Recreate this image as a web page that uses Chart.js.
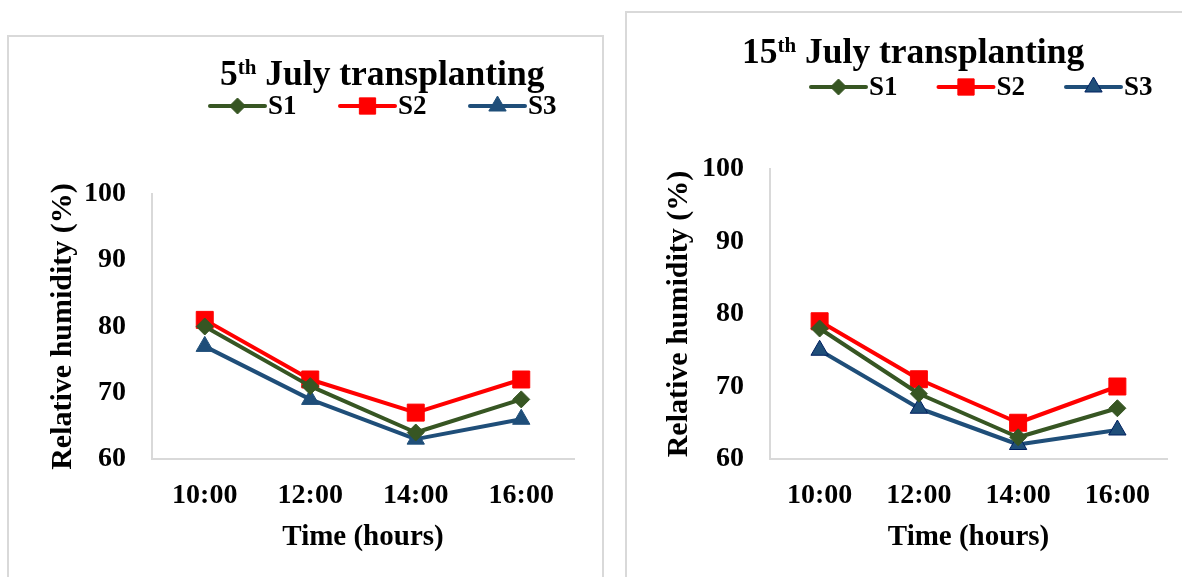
<!DOCTYPE html>
<html>
<head>
<meta charset="utf-8">
<script src="https://cdn.jsdelivr.net/npm/chart.js@4/dist/chart.umd.min.js"></script>
<style>
  html, body { margin: 0; padding: 0; background: #fff; width: 1182px; height: 577px; overflow: hidden; }
  .panel { position: absolute; border: 2px solid #d9d9d9; background: #fff; }
  .panel canvas { display: block; }
</style>
</head>
<body>
<div class="panel" style="left:7px; top:35px;">
  <canvas id="rhJuly5" width="593" height="540" style="width:593px;height:540px"></canvas>
</div>
<div class="panel" style="left:625px; top:11px;">
  <canvas id="rhJuly15" width="555" height="564" style="width:555px;height:564px"></canvas>
</div>
<script>
// Sampling times and relative humidity axis ticks
const timeLabels = ['10:00', '12:00', '14:00', '16:00'];
const humidityTicks = [60, 70, 80, 90, 100];
const seriesNames = ['S1', 'S2', 'S3'];

// Relative humidity (%) — 5th July transplanting
const july5S1 = [80, 71, 64, 69];
const july5S2 = [81, 72, 67, 72];
const july5S3 = [77, 69, 63, 66];

// Relative humidity (%) — 15th July transplanting
const july15S1 = [78, 69, 63, 67];
const july15S2 = [79, 71, 65, 70];
const july15S3 = [75, 67, 62, 64];

// Heading text: day number, ordinal suffix (superscript), remainder
const july5Heading = ['5', 'th', ' July transplanting'];
const july15Heading = ['15', 'th', ' July transplanting'];

const xAxisTitle = 'Time (hours)';
const yAxisTitle = 'Relative humidity (%)';

const SERIF = "'Liberation Serif', 'Times New Roman', Times, serif";

// Line and marker look for S1 / S2 / S3
const seriesLook = [
  { color: '#375623', edge: '#375623', style: 'rectRot', radius: 8.5, legendRadius: 8 },
  { color: '#ff0000', edge: '#ff0000', style: 'rect', radius: 12, legendRadius: 11.5 },
  { color: '#1f4e79', edge: '#1f4e79', style: 'triangle', radius: 10, legendRadius: 10 }
];

function markerPath(ctx, style, r, x, y) {
  ctx.beginPath();
  if (style === 'rect') {
    const s = Math.SQRT1_2 * r;
    ctx.rect(x - s, y - s, 2 * s, 2 * s);
  } else if (style === 'rectRot') {
    ctx.moveTo(x - r, y); ctx.lineTo(x, y - r); ctx.lineTo(x + r, y); ctx.lineTo(x, y + r);
    ctx.closePath();
  } else {
    const a = 2 * Math.PI / 3;
    ctx.moveTo(x, y - r);
    ctx.lineTo(x + Math.sin(a) * r, y - Math.cos(a) * r);
    ctx.lineTo(x + Math.sin(2 * a) * r, y - Math.cos(2 * a) * r);
    ctx.closePath();
  }
}

// Draws the heading (with superscript ordinal) and the line+marker legend
const headingPlugin = {
  id: 'heading',
  afterDraw(chart, args, o) {
    const ctx = chart.ctx;
    ctx.save();
    ctx.fillStyle = '#000';
    ctx.textAlign = 'left';
    ctx.textBaseline = 'alphabetic';
    let x = o.titleX;
    const [day, suffix, rest] = o.text;
    ctx.font = `bold ${o.titleSize}px ${SERIF}`;
    ctx.fillText(day, x, o.titleY);
    x += ctx.measureText(day).width;
    ctx.font = `bold ${o.supSize}px ${SERIF}`;
    ctx.fillText(suffix, x, o.titleY - o.supRaise);
    x += ctx.measureText(suffix).width;
    ctx.font = `bold ${o.titleSize}px ${SERIF}`;
    ctx.fillText(rest, x, o.titleY);

    chart.data.datasets.forEach((ds, i) => {
      const x0 = o.legendX + i * o.legendStep;
      const x1 = x0 + o.legendLine;
      const y = o.legendY;
      ctx.strokeStyle = ds.borderColor;
      ctx.lineWidth = ds.borderWidth;
      ctx.lineCap = 'round';
      ctx.beginPath(); ctx.moveTo(x0, y); ctx.lineTo(x1, y); ctx.stroke();
      ctx.fillStyle = ds.pointBackgroundColor;
      ctx.strokeStyle = ds.pointBorderColor;
      ctx.lineWidth = ds.pointBorderWidth;
      ctx.lineCap = 'butt';
      const pointOpts = { pointStyle: ds.pointStyle, radius: ds.legendRadius, rotation: 0, borderWidth: ds.pointBorderWidth };
      if (Chart.helpers && Chart.helpers.drawPoint) {
        Chart.helpers.drawPoint(ctx, pointOpts, (x0 + x1) / 2, y);
      } else {
        markerPath(ctx, ds.pointStyle, ds.legendRadius, (x0 + x1) / 2, y);
        ctx.fill(); ctx.stroke();
      }
      ctx.fillStyle = '#000';
      ctx.font = `bold ${o.legendSize}px ${SERIF}`;
      ctx.textBaseline = 'middle';
      ctx.fillText(ds.label, x1 + o.legendGap, y + 1);
    });
    ctx.restore();
  }
};

function buildChart(canvasId, series, triangleEdge, lay) {
  const tickFont = { family: SERIF, size: 28, weight: 'bold' };
  const xTitleFont = { family: SERIF, size: 29, weight: 'bold' };
  const yTitleFont = { family: SERIF, size: 30, weight: 'bold' };
  const datasets = series.map((values, i) => {
    const look = seriesLook[i];
    const edge = i === 2 ? triangleEdge : look.edge;
    return {
      label: seriesNames[i],
      data: values,
      borderColor: look.color,
      backgroundColor: look.color,
      borderWidth: 4,
      borderCapStyle: 'round',
      borderJoinStyle: 'round',
      tension: 0,
      pointStyle: look.style,
      pointRadius: look.radius,
      legendRadius: look.legendRadius,
      pointBackgroundColor: look.color,
      pointBorderColor: edge,
      pointBorderWidth: 1
    };
  });
  return new Chart(document.getElementById(canvasId), {
    type: 'line',
    data: { labels: timeLabels, datasets },
    plugins: [headingPlugin],
    options: {
      responsive: false,
      animation: false,
      events: [],
      layout: { padding: { top: lay.top, right: lay.right, left: 0, bottom: 0 } },
      plugins: {
        legend: { display: false },
        title: { display: false },
        tooltip: { enabled: false },
        heading: lay.heading
      },
      scales: {
        x: {
          offset: true,
          grid: { display: false, drawTicks: false },
          border: { display: true, color: '#d9d9d9', width: 2 },
          ticks: { color: '#000', font: tickFont, padding: 20, maxRotation: 0 },
          title: { display: true, text: xAxisTitle, color: '#000', font: xTitleFont,
                   padding: { top: 0, bottom: lay.xTitlePad } },
          afterFit(scale) { scale.height = lay.xHeight; }
        },
        y: {
          min: humidityTicks[0],
          max: humidityTicks[humidityTicks.length - 1],
          afterBuildTicks(scale) { scale.ticks = humidityTicks.map(v => ({ value: v })); },
          grid: { display: false, drawTicks: false },
          border: { display: true, color: '#d9d9d9', width: 2 },
          ticks: { color: '#000', font: tickFont, padding: 26 },
          title: { display: true, text: yAxisTitle, color: '#000', font: yTitleFont,
                   padding: { top: lay.yTitlePad, bottom: 0 } },
          afterFit(scale) { scale.width = lay.yWidth; }
        }
      }
    }
  });
}

buildChart('rhJuly5', [july5S1, july5S2, july5S3], '#1f4e79', {
  top: 157, right: 28, xHeight: 118, yWidth: 143, xTitlePad: 22, yTitlePad: 36,
  heading: {
    text: july5Heading, titleX: 211, titleY: 48, titleSize: 35.5, supSize: 21, supRaise: 11,
    legendX: 201, legendY: 69, legendStep: 130, legendLine: 55, legendGap: 3, legendSize: 27
  }
});

buildChart('rhJuly15', [july15S1, july15S2, july15S3], '#002060', {
  top: 156, right: 15, xHeight: 118, yWidth: 143, xTitlePad: 22, yTitlePad: 34,
  heading: {
    text: july15Heading, titleX: 115, titleY: 50, titleSize: 35.5, supSize: 21, supRaise: 11,
    legendX: 184, legendY: 74, legendStep: 127.5, legendLine: 55, legendGap: 3, legendSize: 27
  }
});
</script>
</body>
</html>
